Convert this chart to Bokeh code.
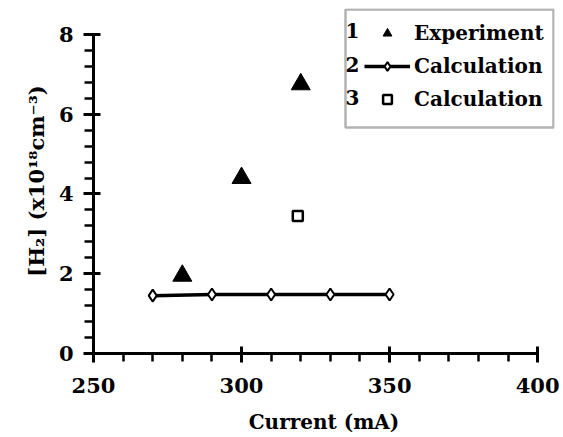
from bokeh.plotting import figure
from bokeh.models import Range1d, Legend, LegendItem, Label, SingleIntervalTicker, BoxAnnotation
from bokeh.embed import file_html
from bokeh.resources import INLINE

# data
exp_x = [280, 300, 320]
exp_y = [1.95, 4.4, 6.75]
calc2_x = [270, 290, 310, 330, 350]
calc2_y = [1.45, 1.48, 1.48, 1.48, 1.48]
calc3_x = [319]
calc3_y = [3.45]
legend_labels = ["Experiment", "Calculation", "Calculation"]
legend_numbers = ["1", "2", "3"]

FONT = "DejaVu Serif"

p = figure(width=563, height=437, output_backend="svg", toolbar_location=None,
           x_range=Range1d(250, 405.7), y_range=Range1d(0, 8.65),
           min_border_left=93, min_border_right=9, min_border_top=8, min_border_bottom=84)
p.outline_line_color = None
p.xgrid.grid_line_color = None
p.ygrid.grid_line_color = None

r1 = p.scatter(exp_x, exp_y, marker="triangle", size=19, fill_color="black", line_color="black")
r2l = p.line(calc2_x, calc2_y, line_color="black", line_width=3.5)
r2m = p.scatter(calc2_x, calc2_y, marker="diamond", size=12, fill_color="white", line_color="black", line_width=2)
r3 = p.scatter(calc3_x, calc3_y, marker="square", size=10, fill_color="white", line_color="black", line_width=2.5)

for ax in (p.xaxis[0], p.yaxis[0]):
    ax.axis_line_width = 3
    ax.major_tick_line_width = 3
    ax.minor_tick_line_width = 2.5
    ax.major_label_text_font = FONT
    ax.major_label_text_font_style = "bold"
    ax.major_label_text_font_size = "21px"
    ax.major_label_text_color = "black"
    ax.axis_label_text_font = FONT
    ax.axis_label_text_font_style = "bold"
    ax.axis_label_text_font_size = "20px"
    ax.axis_label_text_color = "black"

p.xaxis.bounds = (250, 400)
p.yaxis.bounds = (0, 8)
p.xaxis.ticker = SingleIntervalTicker(interval=50, num_minor_ticks=5)
p.yaxis.ticker = SingleIntervalTicker(interval=2, num_minor_ticks=5)
p.xaxis.major_tick_in = 7
p.xaxis.major_tick_out = 9
p.xaxis.minor_tick_in = 0
p.xaxis.minor_tick_out = 8
p.yaxis.major_tick_in = 7
p.yaxis.major_tick_out = 10
p.yaxis.minor_tick_in = 0
p.yaxis.minor_tick_out = 9
p.xaxis.major_label_standoff = 15
p.yaxis.major_label_standoff = 10
p.xaxis.axis_label = "Current (mA)"
p.xaxis.axis_label_standoff = 14
p.yaxis.axis_label = "[H\u2082] (x10\u00b9\u2078cm\u207b\u00b3)"
p.yaxis.axis_label_text_font_size = "21px"
p.yaxis.axis_label_standoff = 7

# legend frame
p.add_layout(BoxAnnotation(left=252, right=460, bottom=226, top=344,
                           left_units="screen", right_units="screen",
                           bottom_units="screen", top_units="screen",
                           fill_color="white", fill_alpha=1,
                           line_color="black", line_width=2.5))

legend = Legend(items=[
    LegendItem(label=legend_labels[0], renderers=[r1]),
    LegendItem(label=legend_labels[1], renderers=[r2l, r2m]),
    LegendItem(label=legend_labels[2], renderers=[r3]),
], location=(271, 242))
legend.glyph_width = 46
legend.glyph_height = 22
legend.label_height = 22
legend.label_standoff = 4
legend.label_text_font = FONT
legend.label_text_font_style = "bold"
legend.label_text_font_size = "20px"
legend.label_text_color = "black"
legend.spacing = 9
legend.padding = 4
legend.margin = 0
legend.border_line_color = None
legend.background_fill_alpha = 0
p.add_layout(legend, "center")

for i, n in enumerate(legend_numbers):
    p.add_layout(Label(x=259, y=323 - i * 33.5, x_units="screen", y_units="screen", text=n,
                       text_font=FONT, text_font_style="bold", text_font_size="20px",
                       text_color="black", text_baseline="middle", text_align="center"))

open("out.html", "w").write(file_html(p, INLINE))
